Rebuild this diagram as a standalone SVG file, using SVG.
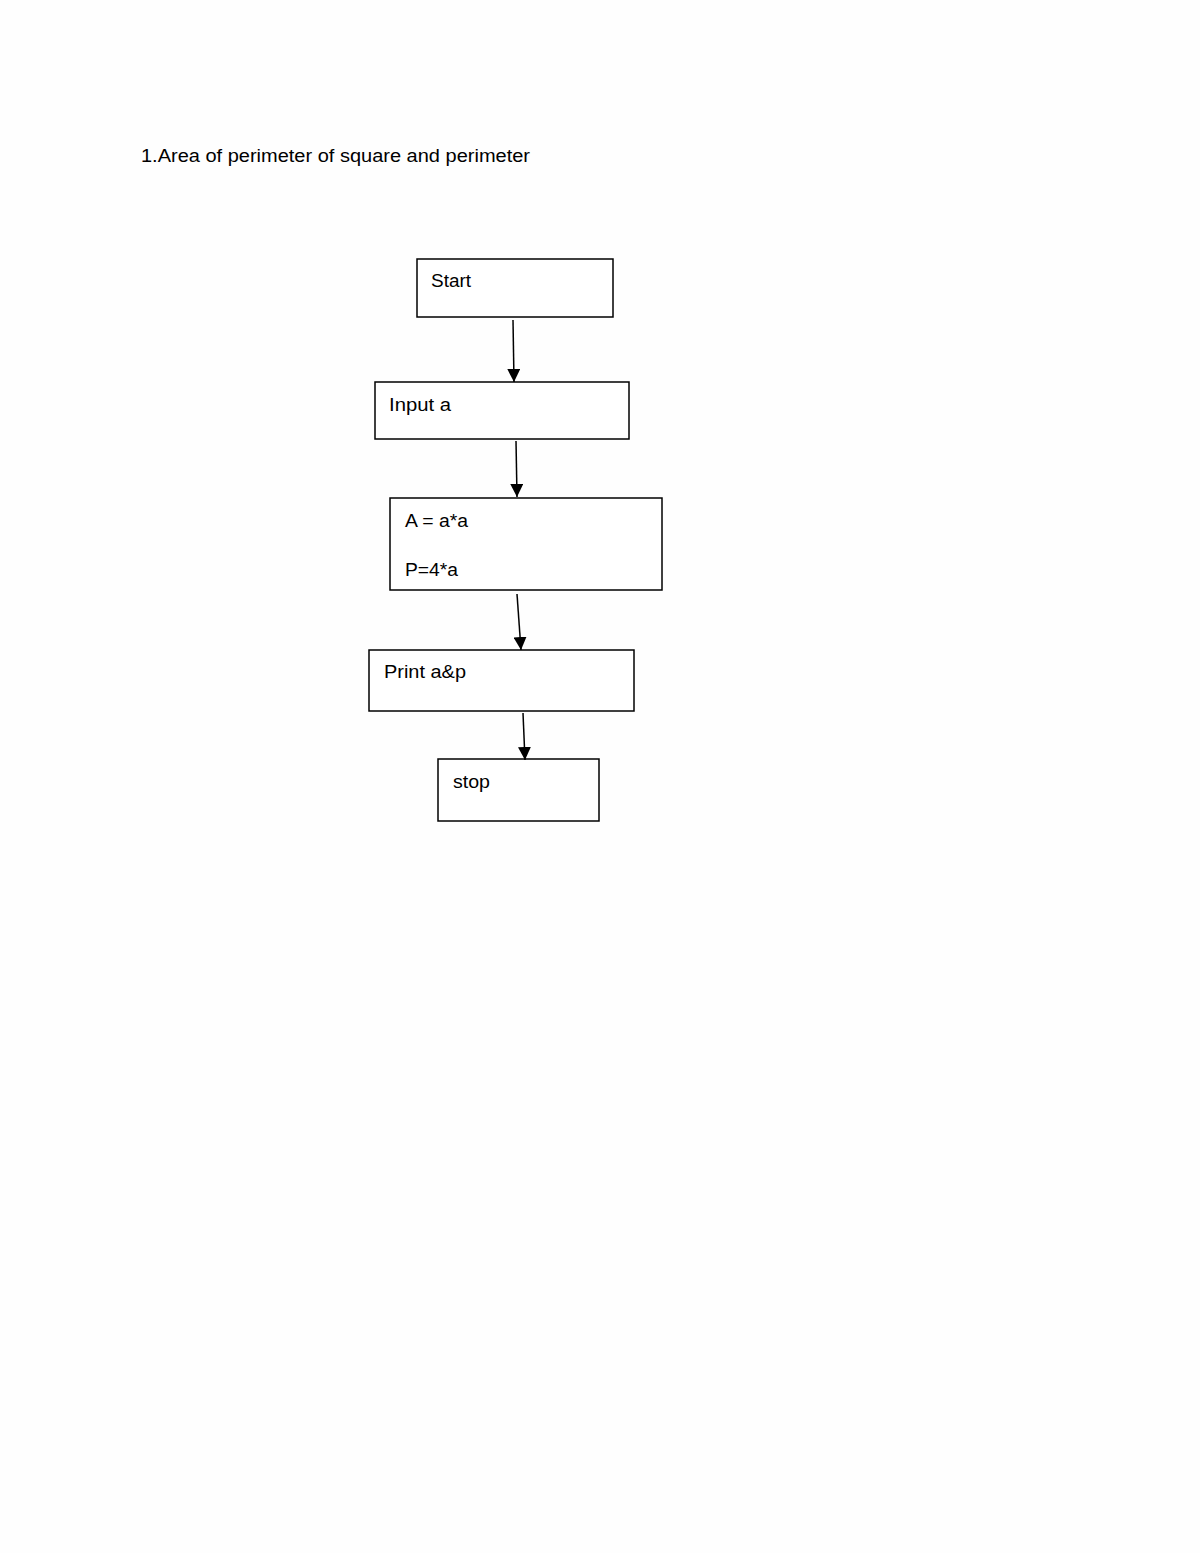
<svg xmlns="http://www.w3.org/2000/svg" width="1200" height="1553" viewBox="0 0 1200 1553">
<style>
.box{fill:#ffffff;stroke:#000;stroke-width:1.5}
.t{font-family:"Liberation Sans","DejaVu Sans",sans-serif;font-size:17.5px;fill:#000}
.c{stroke:#000;stroke-width:1.5;fill:none}
</style>
<defs>
<marker id="ah" markerWidth="13" markerHeight="13" refX="13" refY="6.5" orient="auto" markerUnits="userSpaceOnUse" viewBox="0 0 13 13">
<path d="M0,0 L13,6.5 L0,13 z" fill="#000"/>
</marker>
</defs>
<rect width="1200" height="1553" fill="#fefefe"/>
<text class="t" x="141" y="162" textLength="389" lengthAdjust="spacingAndGlyphs">1.Area of perimeter of square and perimeter</text>
<g id="start">
<rect class="box" x="417" y="259" width="196" height="58"/>
<text class="t" x="431" y="287" textLength="40" lengthAdjust="spacingAndGlyphs">Start</text>
</g>
<g id="input">
<rect class="box" x="375" y="382" width="254" height="57"/>
<text class="t" x="389" y="411" textLength="62" lengthAdjust="spacingAndGlyphs">Input a</text>
</g>
<g id="calc">
<rect class="box" x="390" y="498" width="272" height="92"/>
<text class="t" x="405" y="527" textLength="63" lengthAdjust="spacingAndGlyphs">A = a*a</text>
<text class="t" x="405" y="576" textLength="53" lengthAdjust="spacingAndGlyphs">P=4*a</text>
</g>
<g id="print">
<rect class="box" x="369" y="650" width="265" height="61"/>
<text class="t" x="384" y="678" textLength="82" lengthAdjust="spacingAndGlyphs">Print a&amp;p</text>
</g>
<g id="stop">
<rect class="box" x="438" y="759" width="161" height="62"/>
<text class="t" x="453" y="788" textLength="37" lengthAdjust="spacingAndGlyphs">stop</text>
</g>
<g id="connectors">
<line class="c" x1="513" y1="320" x2="514" y2="382" marker-end="url(#ah)"/>
<line class="c" x1="516" y1="441" x2="517" y2="497" marker-end="url(#ah)"/>
<line class="c" x1="517" y1="594" x2="521" y2="650" marker-end="url(#ah)"/>
<line class="c" x1="523" y1="713" x2="525" y2="760" marker-end="url(#ah)"/>
</g>
</svg>
